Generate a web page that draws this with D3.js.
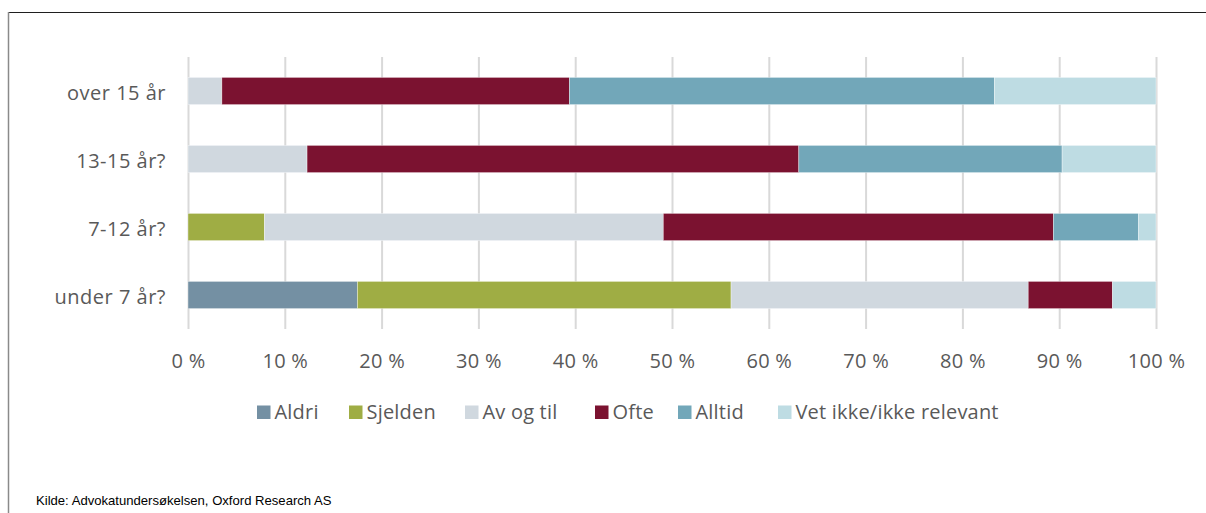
<!DOCTYPE html>
<html>
<head>
<meta charset="utf-8">
<script src="https://cdn.jsdelivr.net/npm/d3@7"></script>
<style>
  html, body { margin: 0; padding: 0; background: #fff; }
  svg { display: block; }
</style>
</head>
<body>
<svg id="chart" width="1206" height="513"></svg>
<script>
// Age groups (top to bottom) and the answer categories stacked left to right
const categories = ["over 15 år", "13-15 år?", "7-12 år?", "under 7 år?"];
const seriesNames = ["Aldri", "Sjelden", "Av og til", "Ofte", "Alltid", "Vet ikke/ikke relevant"];

// Share of answers (%) per age group, in the order of `categories`
const aldri    = [0,    0,    0,    17.5];
const sjelden  = [0,    0,    7.9,  38.6];
const avOgTil  = [3.5,  12.3, 41.2, 30.7];
const ofte     = [35.9, 50.8, 40.3, 8.7];
const alltid   = [43.9, 27.2, 8.8,  0];
const vetIkke  = [16.7, 9.7,  1.8,  4.5];

const tickValues = [0, 10, 20, 30, 40, 50, 60, 70, 80, 90, 100];
const tickLabels = ["0 %", "10 %", "20 %", "30 %", "40 %", "50 %", "60 %", "70 %", "80 %", "90 %", "100 %"];

const colors = ["#7490a3", "#9fad44", "#d0d8df", "#7b1230", "#72a7b9", "#bedce3"];

const seriesValues = [aldri, sjelden, avOgTil, ofte, alltid, vetIkke];
const rows = categories.map((c, i) => {
  const r = { category: c };
  seriesNames.forEach((s, k) => { r[s] = seriesValues[k][i]; });
  return r;
});

const FONT = "'Open Sans', sans-serif";
const TEXT = "#595959";

const svg = d3.select("#chart");

// Frame: dark top rule and grey left rule
svg.append("line").attr("x1", 8).attr("x2", 1206).attr("y1", 12.5).attr("y2", 12.5)
  .attr("stroke", "#1f1f1f").attr("stroke-width", 1.2);
svg.append("line").attr("x1", 8.5).attr("x2", 8.5).attr("y1", 12).attr("y2", 513)
  .attr("stroke", "#8a8a8a").attr("stroke-width", 1.5);

const plot = { left: 188, right: 1156, top: 57, bottom: 329 };

const x = d3.scaleLinear().domain([0, 100]).range([plot.left, plot.right]);
const y = d3.scaleBand().domain(categories).range([plot.top, plot.bottom]).paddingInner(0.6).paddingOuter(0.3);

// Vertical gridlines
svg.append("g")
  .attr("transform", `translate(0,${plot.bottom})`)
  .call(d3.axisBottom(x).tickValues(tickValues).tickSize(-(plot.bottom - plot.top)).tickFormat(""))
  .call(g => g.select(".domain").remove())
  .call(g => g.selectAll(".tick line").attr("stroke", "#d9d9d9").attr("stroke-width", 2));

// Tick labels
svg.append("g")
  .attr("transform", `translate(0,${plot.bottom})`)
  .call(d3.axisBottom(x).tickValues(tickValues).tickSize(0).tickPadding(24.5)
    .tickFormat((d, i) => tickLabels[i]))
  .call(g => g.select(".domain").remove())
  .call(g => g.selectAll("text")
    .attr("fill", TEXT)
    .attr("font-family", FONT)
    .attr("font-size", 20)
    .attr("letter-spacing", 0.3));

// Stacked bars
const stack = d3.stack().keys(seriesNames)(rows);
svg.append("g").selectAll("g")
  .data(stack)
  .join("g")
  .attr("fill", (d, i) => colors[i])
  .selectAll("rect")
  .data(d => d)
  .join("rect")
  .attr("x", d => x(d[0]))
  .attr("width", d => Math.max(0, x(d[1]) - x(d[0])))
  .attr("y", d => y(d.data.category))
  .attr("height", y.bandwidth())
  .attr("stroke", d => (d[1] - d[0]) > 0 ? "#ffffff" : "none")
  .attr("stroke-width", 0.6)
  .attr("stroke-opacity", 0.6);

// Category labels
svg.append("g")
  .call(d3.axisLeft(y).tickSize(0).tickPadding(0))
  .attr("transform", `translate(${plot.left - 22},0)`)
  .call(g => g.select(".domain").remove())
  .call(g => g.selectAll("text")
    .attr("fill", TEXT)
    .attr("font-family", FONT)
    .attr("font-size", 20)
    .attr("letter-spacing", 0.5)
    .attr("dy", "0.44em"));

// Legend
const legendX = [257, 349, 465, 595, 678, 778];
const legend = svg.append("g").attr("transform", "translate(0,412)");
const items = legend.selectAll("g").data(seriesNames).join("g")
  .attr("transform", (d, i) => `translate(${legendX[i]},0)`);
items.append("rect").attr("x", 0).attr("y", -6.5).attr("width", 13.5).attr("height", 13.5)
  .attr("fill", (d, i) => colors[i]);
items.append("text").attr("x", 17.5).attr("y", 0).attr("dy", "0.36em")
  .attr("fill", TEXT)
  .attr("font-family", FONT)
  .attr("font-size", 20)
  .attr("letter-spacing", 0.2)
  .text(d => d);

// Source note
svg.append("text").attr("x", 36).attr("y", 505)
  .attr("fill", "#000")
  .attr("font-family", "'Liberation Sans', Arial, sans-serif")
  .attr("font-size", 13.1)
  .text("Kilde: Advokatundersøkelsen, Oxford Research AS");
</script>
</body>
</html>
